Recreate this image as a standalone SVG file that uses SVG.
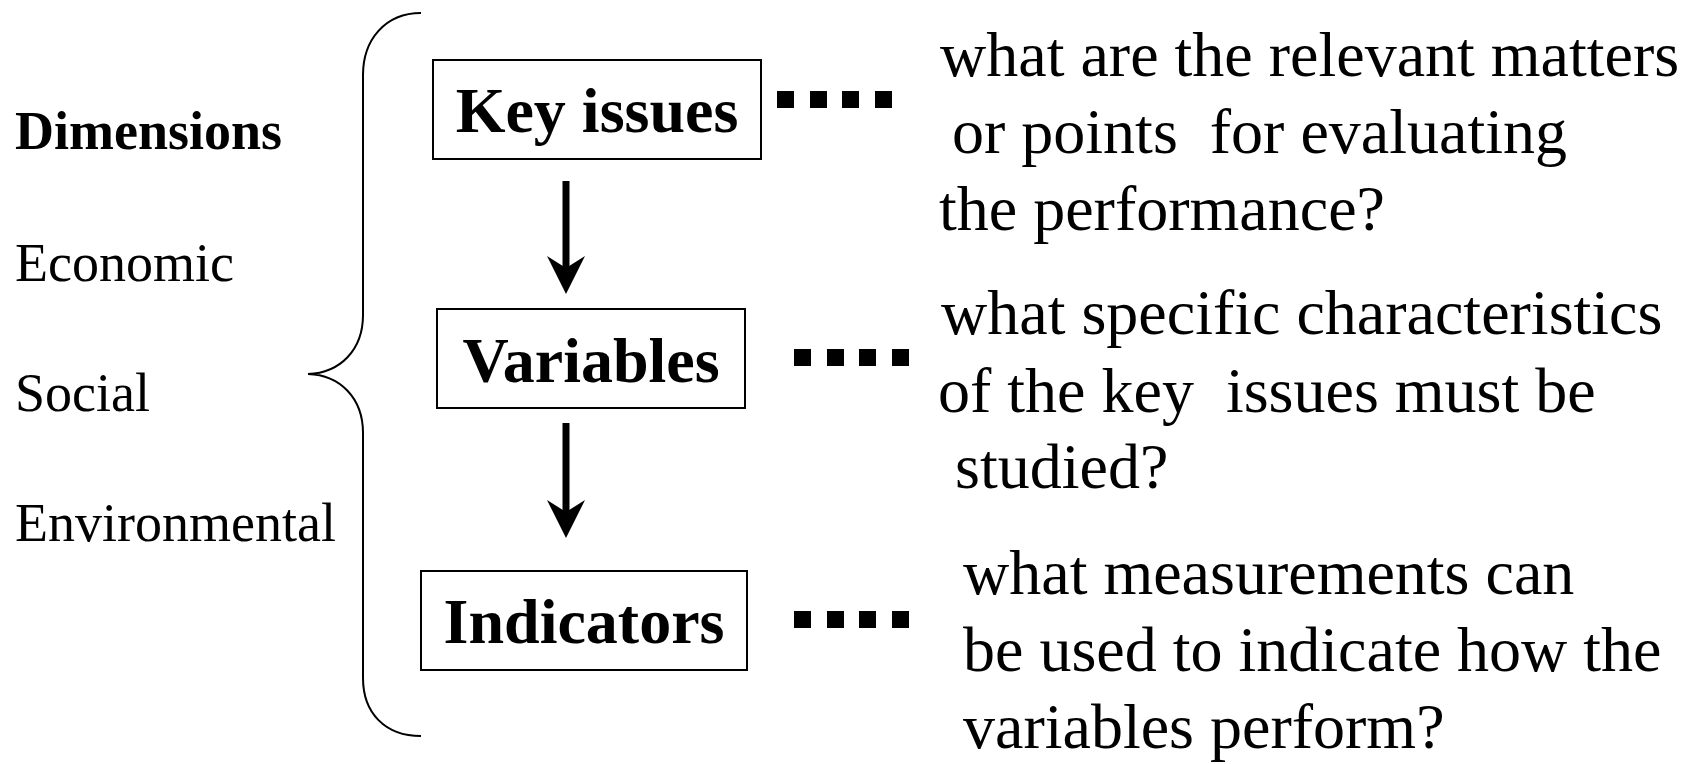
<svg xmlns="http://www.w3.org/2000/svg" width="1700" height="764" viewBox="0 0 1700 764">
<defs>
<style>
.lbl{font-family:"Liberation Serif","Times New Roman",serif;font-size:54px;fill:#000}
.lblb{font-family:"Liberation Serif","Times New Roman",serif;font-size:54px;font-weight:bold;fill:#000}
.box{fill:#fff;stroke:#000;stroke-width:2}
.boxt{font-family:"Liberation Serif","Times New Roman",serif;font-size:64px;font-weight:bold;fill:#000;text-anchor:middle}
.q{font-family:"Liberation Serif","Times New Roman",serif;font-size:64px;fill:#000;white-space:pre}
.sq{fill:#000}
.shaft{stroke:#000;stroke-width:7;fill:none}
.head{fill:#000}
.brace{stroke:#000;stroke-width:2;fill:none}
</style>
</defs>
<rect width="1700" height="764" fill="#fff"/>

<g id="dimensions">
<text class="lblb" x="15" y="149">Dimensions</text>
<text class="lbl" x="15" y="281">Economic</text>
<text class="lbl" x="15" y="411">Social</text>
<text class="lbl" x="15" y="541">Environmental</text>
<path class="brace" d="M421,13 C385,13 363,40 363,75 L363,315 C363,350 340,373 308,374 C340,375 363,398 363,433 L363,678 C363,713 385,736 421,736"/>
</g>

<g id="key-issues">
<rect class="box" x="433" y="60" width="328" height="99"/>
<text class="boxt" x="597" y="132">Key issues</text>
</g>
<g id="variables">
<rect class="box" x="437" y="309" width="308" height="99"/>
<text class="boxt" x="591" y="382">Variables</text>
</g>
<g id="indicators">
<rect class="box" x="421" y="571" width="326" height="99"/>
<text class="boxt" x="584" y="643">Indicators</text>
</g>

<g id="connectors">
<line class="shaft" x1="566" y1="181" x2="566" y2="268"/>
<path class="head" d="M566,294 L547,256 L566,268 L585,256 Z"/>
<line class="shaft" x1="566" y1="423" x2="566" y2="512"/>
<path class="head" d="M566,538 L547,500 L566,512 L585,500 Z"/>
<g class="sq">
<rect x="777" y="91" width="17" height="17"/><rect x="810" y="91" width="17" height="17"/><rect x="842" y="91" width="17" height="17"/><rect x="875" y="91" width="17" height="17"/>
<rect x="794" y="349" width="17" height="17"/><rect x="827" y="349" width="17" height="17"/><rect x="859" y="349" width="17" height="17"/><rect x="892" y="349" width="17" height="17"/>
<rect x="794" y="611" width="17" height="17"/><rect x="827" y="611" width="17" height="17"/><rect x="859" y="611" width="17" height="17"/><rect x="892" y="611" width="17" height="17"/>
</g>
</g>

<g id="q-key-issues">
<text class="q" x="940" y="76">what are the relevant matters</text>
<text class="q" x="952" y="153">or points  for evaluating</text>
<text class="q" x="939" y="230">the performance?</text>
</g>
<g id="q-variables">
<text class="q" x="941" y="334">what specific characteristics</text>
<text class="q" x="938" y="412">of the key  issues must be</text>
<text class="q" x="955" y="488">studied?</text>
</g>
<g id="q-indicators">
<text class="q" x="963" y="594">what measurements can</text>
<text class="q" x="963" y="671">be used to indicate how the</text>
<text class="q" x="963" y="748">variables perform?</text>
</g>
</svg>
